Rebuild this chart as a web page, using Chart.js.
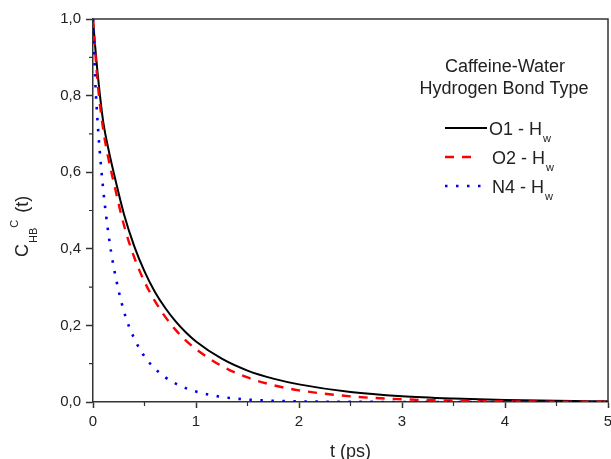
<!DOCTYPE html>
<html>
<head>
<meta charset="utf-8">
<script src="https://cdn.jsdelivr.net/npm/chart.js@4"></script>
<style>
  body { margin: 0; background: #fff; }
  #wrap { width: 611px; height: 459px; position: relative; }
</style>
</head>
<body>
<div id="wrap"><canvas id="chart"></canvas></div>
<script>
// time grid (ps) and the three correlation curves
const time = [0, 0.01, 0.02, 0.05, 0.1, 0.15, 0.2, 0.3, 0.4, 0.5, 0.6, 0.7, 0.8, 0.9, 1.0,
              1.25, 1.5, 1.75, 2, 2.5, 3, 3.5, 4, 4.5, 5];
const o1 = [1.0, 0.965, 0.932, 0.845, 0.73, 0.66, 0.60, 0.491, 0.407, 0.341, 0.288, 0.246, 0.211, 0.182, 0.158,
            0.113, 0.082, 0.061, 0.046, 0.026, 0.015, 0.009, 0.0053, 0.0031, 0.0018];
const o2 = [1.0, 0.96, 0.92, 0.82, 0.71, 0.635, 0.575, 0.462, 0.378, 0.314, 0.264, 0.223, 0.189, 0.161, 0.138,
            0.094, 0.064, 0.044, 0.0305, 0.0148, 0.0072, 0.0036, 0.0018, 0.0009, 0.0005];
const n4 = [1.0, 0.93, 0.85, 0.71, 0.553, 0.439, 0.354, 0.237, 0.166, 0.119, 0.0876, 0.0649, 0.0486, 0.0363, 0.0272,
            0.0132, 0.0064, 0.0031, 0.0015, 0.0004, 0.0001, 0, 0, 0, 0];
const seriesNames = ['O1 - H', 'O2 - H', 'N4 - H'];
const xTicks = [0, 1, 2, 3, 4, 5];
const yTicks = [0, 0.2, 0.4, 0.6, 0.8, 1.0];

const FONT = '"Liberation Sans", Arial, sans-serif';
const INK = '#222';

function pts(ys) {
    return time.map((t, i) => ({ x: t, y: ys[i] }));
}

// frame, minor ticks, axis titles and the legend box
const decor = {
    id: 'decor',
    afterDraw(chart) {
        const ctx = chart.ctx;
        const a = chart.chartArea;
        const xs = chart.scales.x, ys = chart.scales.y;
        ctx.save();
        ctx.strokeStyle = '#333';
        ctx.lineWidth = 1.5;
        ctx.beginPath();
        ctx.moveTo(a.left, a.top);
        ctx.lineTo(a.right, a.top);
        ctx.lineTo(a.right, a.bottom);
        ctx.stroke();

        // minor ticks
        ctx.lineWidth = 1.2;
        ctx.beginPath();
        for (let v = 0.5; v < 5; v += 1) {
            const px = xs.getPixelForValue(v);
            ctx.moveTo(px, a.bottom);
            ctx.lineTo(px, a.bottom + 4);
        }
        for (let v = 0.1; v < 1; v += 0.2) {
            const py = ys.getPixelForValue(v);
            ctx.moveTo(a.left, py);
            ctx.lineTo(a.left - 4, py);
        }
        ctx.stroke();

        ctx.fillStyle = INK;
        // x title
        ctx.font = '18px ' + FONT;
        ctx.textAlign = 'center';
        ctx.textBaseline = 'alphabetic';
        ctx.fillText('t (ps)', (a.left + a.right) / 2, 457);

        // y title, rotated, with sub/superscripts
        ctx.save();
        ctx.translate(28, 257);
        ctx.rotate(-Math.PI / 2);
        ctx.textAlign = 'left';
        let x = 0;
        ctx.font = '18px ' + FONT;
        ctx.fillText('C', x, 0);
        x += ctx.measureText('C').width + 1;
        ctx.font = '11px ' + FONT;
        ctx.fillText('HB', x, 9);
        x += ctx.measureText('HB').width;
        ctx.fillText('C', x, -10);
        x += ctx.measureText('C').width + 2;
        ctx.font = '18px ' + FONT;
        ctx.fillText(' (t)', x, 0);
        ctx.restore();

        // legend
        ctx.textAlign = 'center';
        ctx.font = '18px ' + FONT;
        ctx.fillText('Caffeine-Water', 505, 72);
        ctx.fillText('Hydrogen Bond Type', 504, 94);

        const rows = [128, 157, 186];
        const textX = [489, 492, 492];
        const ends = [487, 474, 483];
        chart.data.datasets.forEach((ds, i) => {
            const y = rows[i];
            ctx.save();
            ctx.strokeStyle = ds.borderColor;
            ctx.lineWidth = ds.borderWidth;
            ctx.setLineDash(ds.borderDash || []);
            ctx.beginPath();
            ctx.moveTo(445, y);
            ctx.lineTo(ends[i], y);
            ctx.stroke();
            ctx.restore();
            ctx.textAlign = 'left';
            ctx.font = '18px ' + FONT;
            ctx.fillText(seriesNames[i], textX[i], y + 7);
            const w = ctx.measureText(seriesNames[i]).width;
            ctx.font = '11px ' + FONT;
            ctx.fillText('w', textX[i] + w + 1, y + 14);
        });
        ctx.restore();
    }
};

new Chart(document.getElementById('chart'), {
    type: 'line',
    data: {
        datasets: [
            {
                label: 'O1 - Hw',
                data: pts(o1),
                borderColor: '#000000',
                borderWidth: 2,
                order: 3
            },
            {
                label: 'O2 - Hw',
                data: pts(o2),
                borderColor: '#ff0000',
                borderWidth: 2.4,
                borderDash: [9, 8],
                order: 2
            },
            {
                label: 'N4 - Hw',
                data: pts(n4),
                borderColor: '#0000f0',
                borderWidth: 2.6,
                borderDash: [2.5, 8.5],
                order: 1
            }
        ]
    },
    options: {
        responsive: true,
        maintainAspectRatio: false,
        animation: false,
        layout: { padding: { top: 19, right: 3, left: 0, bottom: 0 } },
        elements: {
            point: { radius: 0 },
            line: { cubicInterpolationMode: 'monotone', fill: false }
        },
        plugins: {
            legend: { display: false },
            tooltip: { enabled: false }
        },
        scales: {
            x: {
                type: 'linear',
                min: 0,
                max: 5,
                afterBuildTicks: s => { s.ticks = xTicks.map(v => ({ value: v })); },
                afterFit: s => { s.height = 57; s.paddingLeft = 0; s.paddingRight = 0; },
                grid: { drawOnChartArea: false, tickLength: 6, tickWidth: 1.5, tickColor: '#333' },
                border: { color: '#333', width: 1.5 },
                ticks: {
                    color: INK,
                    font: { family: FONT, size: 15 },
                    padding: 5,
                    maxRotation: 0,
                    callback: v => String(v)
                }
            },
            y: {
                min: 0,
                max: 1,
                afterBuildTicks: s => { s.ticks = yTicks.map(v => ({ value: v })); },
                afterFit: s => { s.width = 93; },
                grid: { drawOnChartArea: false, tickLength: 7, tickWidth: 1.5, tickColor: '#333' },
                border: { color: '#333', width: 1.5 },
                ticks: {
                    color: INK,
                    font: { family: FONT, size: 15 },
                    padding: 5,
                    callback: v => v.toFixed(1).replace('.', ',')
                }
            }
        }
    },
    plugins: [decor]
});
</script>
</body>
</html>
